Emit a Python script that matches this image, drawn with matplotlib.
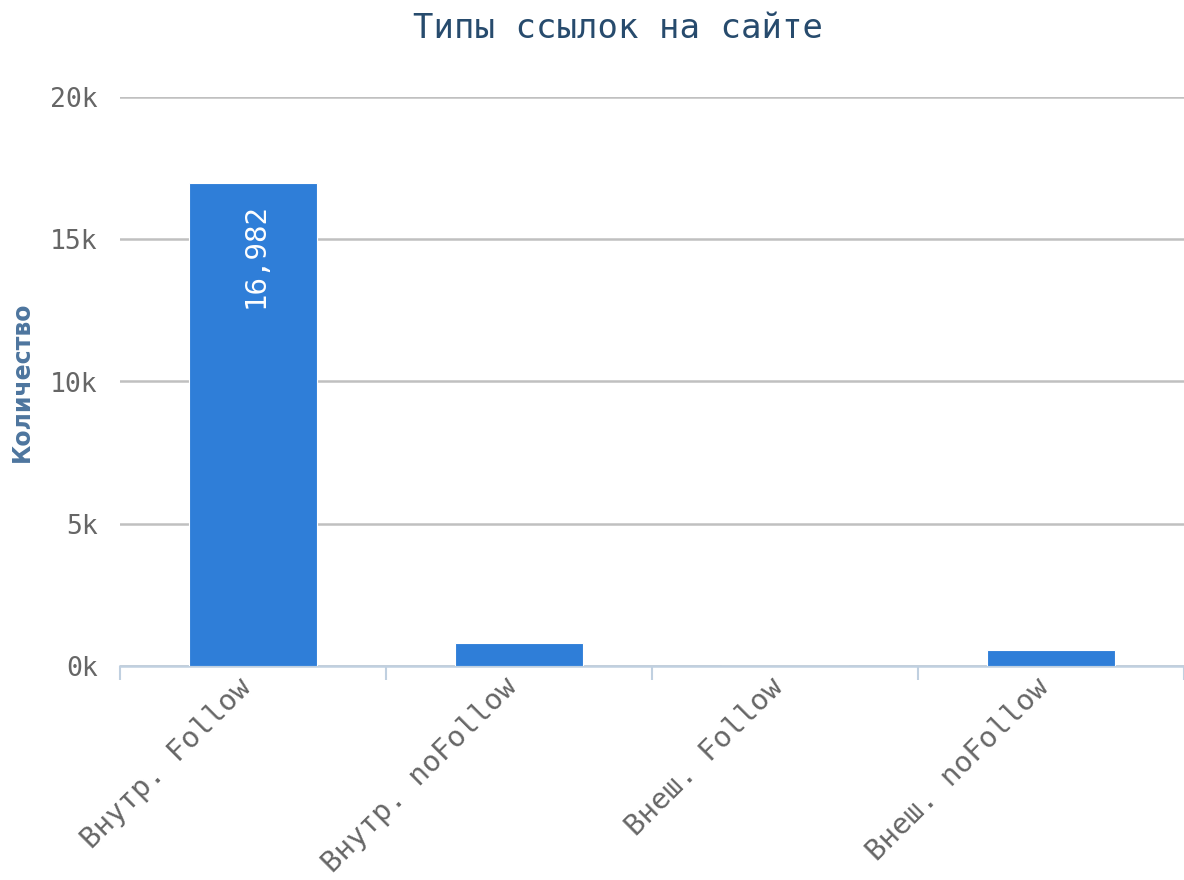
import matplotlib
matplotlib.use("Agg")
import matplotlib.pyplot as plt
from matplotlib.ticker import FuncFormatter, FixedLocator
from matplotlib.transforms import ScaledTranslation

# DATA
categories = ["Внутр. Follow", "Внутр. noFollow", "Внеш. Follow", "Внеш. noFollow"]
counts = [16982, 820, 0, 575]
y_ticks = [0, 5000, 10000, 15000, 20000]

MONO = "DejaVu Sans Mono"

fig = plt.figure(figsize=(11.84, 8.8), dpi=100)
ax = fig.add_axes([120 / 1184, 1 - 666 / 880, 1 - 120 / 1184, (666 - 97) / 880])

x = list(range(len(categories)))
ax.bar(x, counts, width=0.48, color="#2f7ed8", edgecolor="#ffffff", linewidth=0.8, zorder=3)

ax.set_xlim(-0.5, len(categories) - 0.5)
ax.set_ylim(0, 20000)

# grid / axes
ax.set_yticks(y_ticks)
ax.yaxis.set_major_formatter(FuncFormatter(lambda v, p: "%dk" % (v / 1000)))
ax.grid(axis="y", color="#c0c0c0", linewidth=1.8, zorder=0)
for s in ["top", "right", "left"]:
    ax.spines[s].set_visible(False)
ax.spines["bottom"].set_color("#c0d0e0")
ax.spines["bottom"].set_linewidth(1.8)
ax.tick_params(axis="y", length=0, pad=16, labelsize=19, labelcolor="#666666")
for lab in ax.get_yticklabels():
    lab.set_family(MONO)

# ticks between categories, labels at category centers
ax.xaxis.set_major_locator(FixedLocator([i - 0.5 for i in range(len(categories) + 1)]))
ax.xaxis.set_major_formatter(FuncFormatter(lambda v, p: ""))
ax.tick_params(axis="x", which="major", length=10, width=1.5, color="#c0d0e0")
ax.set_xticks(x, minor=True)
ax.set_xticklabels(categories, minor=True, rotation=45, ha="right", rotation_mode="anchor",
                   fontsize=21, color="#666666", family=MONO)
ax.tick_params(axis="x", which="minor", length=0, pad=5)
shift = ScaledTranslation(-0.16, 0, fig.dpi_scale_trans)
for lab in ax.get_xticklabels(minor=True):
    lab.set_transform(lab.get_transform() + shift)

# value label inside first bar
ax.text(0.01, counts[0] - 700, "{:,}".format(counts[0]), rotation=90, ha="center", va="top",
        color="white", fontsize=21, family=MONO, zorder=4)

fig.text(0.522, 1 - 28 / 880, "Типы ссылок на сайте", ha="center", va="center",
         fontsize=24.5, color="#274b6d", family=MONO)
fig.text(22 / 1184, 1 - 382 / 880, "Количество", rotation=90, ha="center", va="center",
         fontsize=17, fontweight="bold", color="#4d759e")

fig.savefig("out.png", dpi=100)
